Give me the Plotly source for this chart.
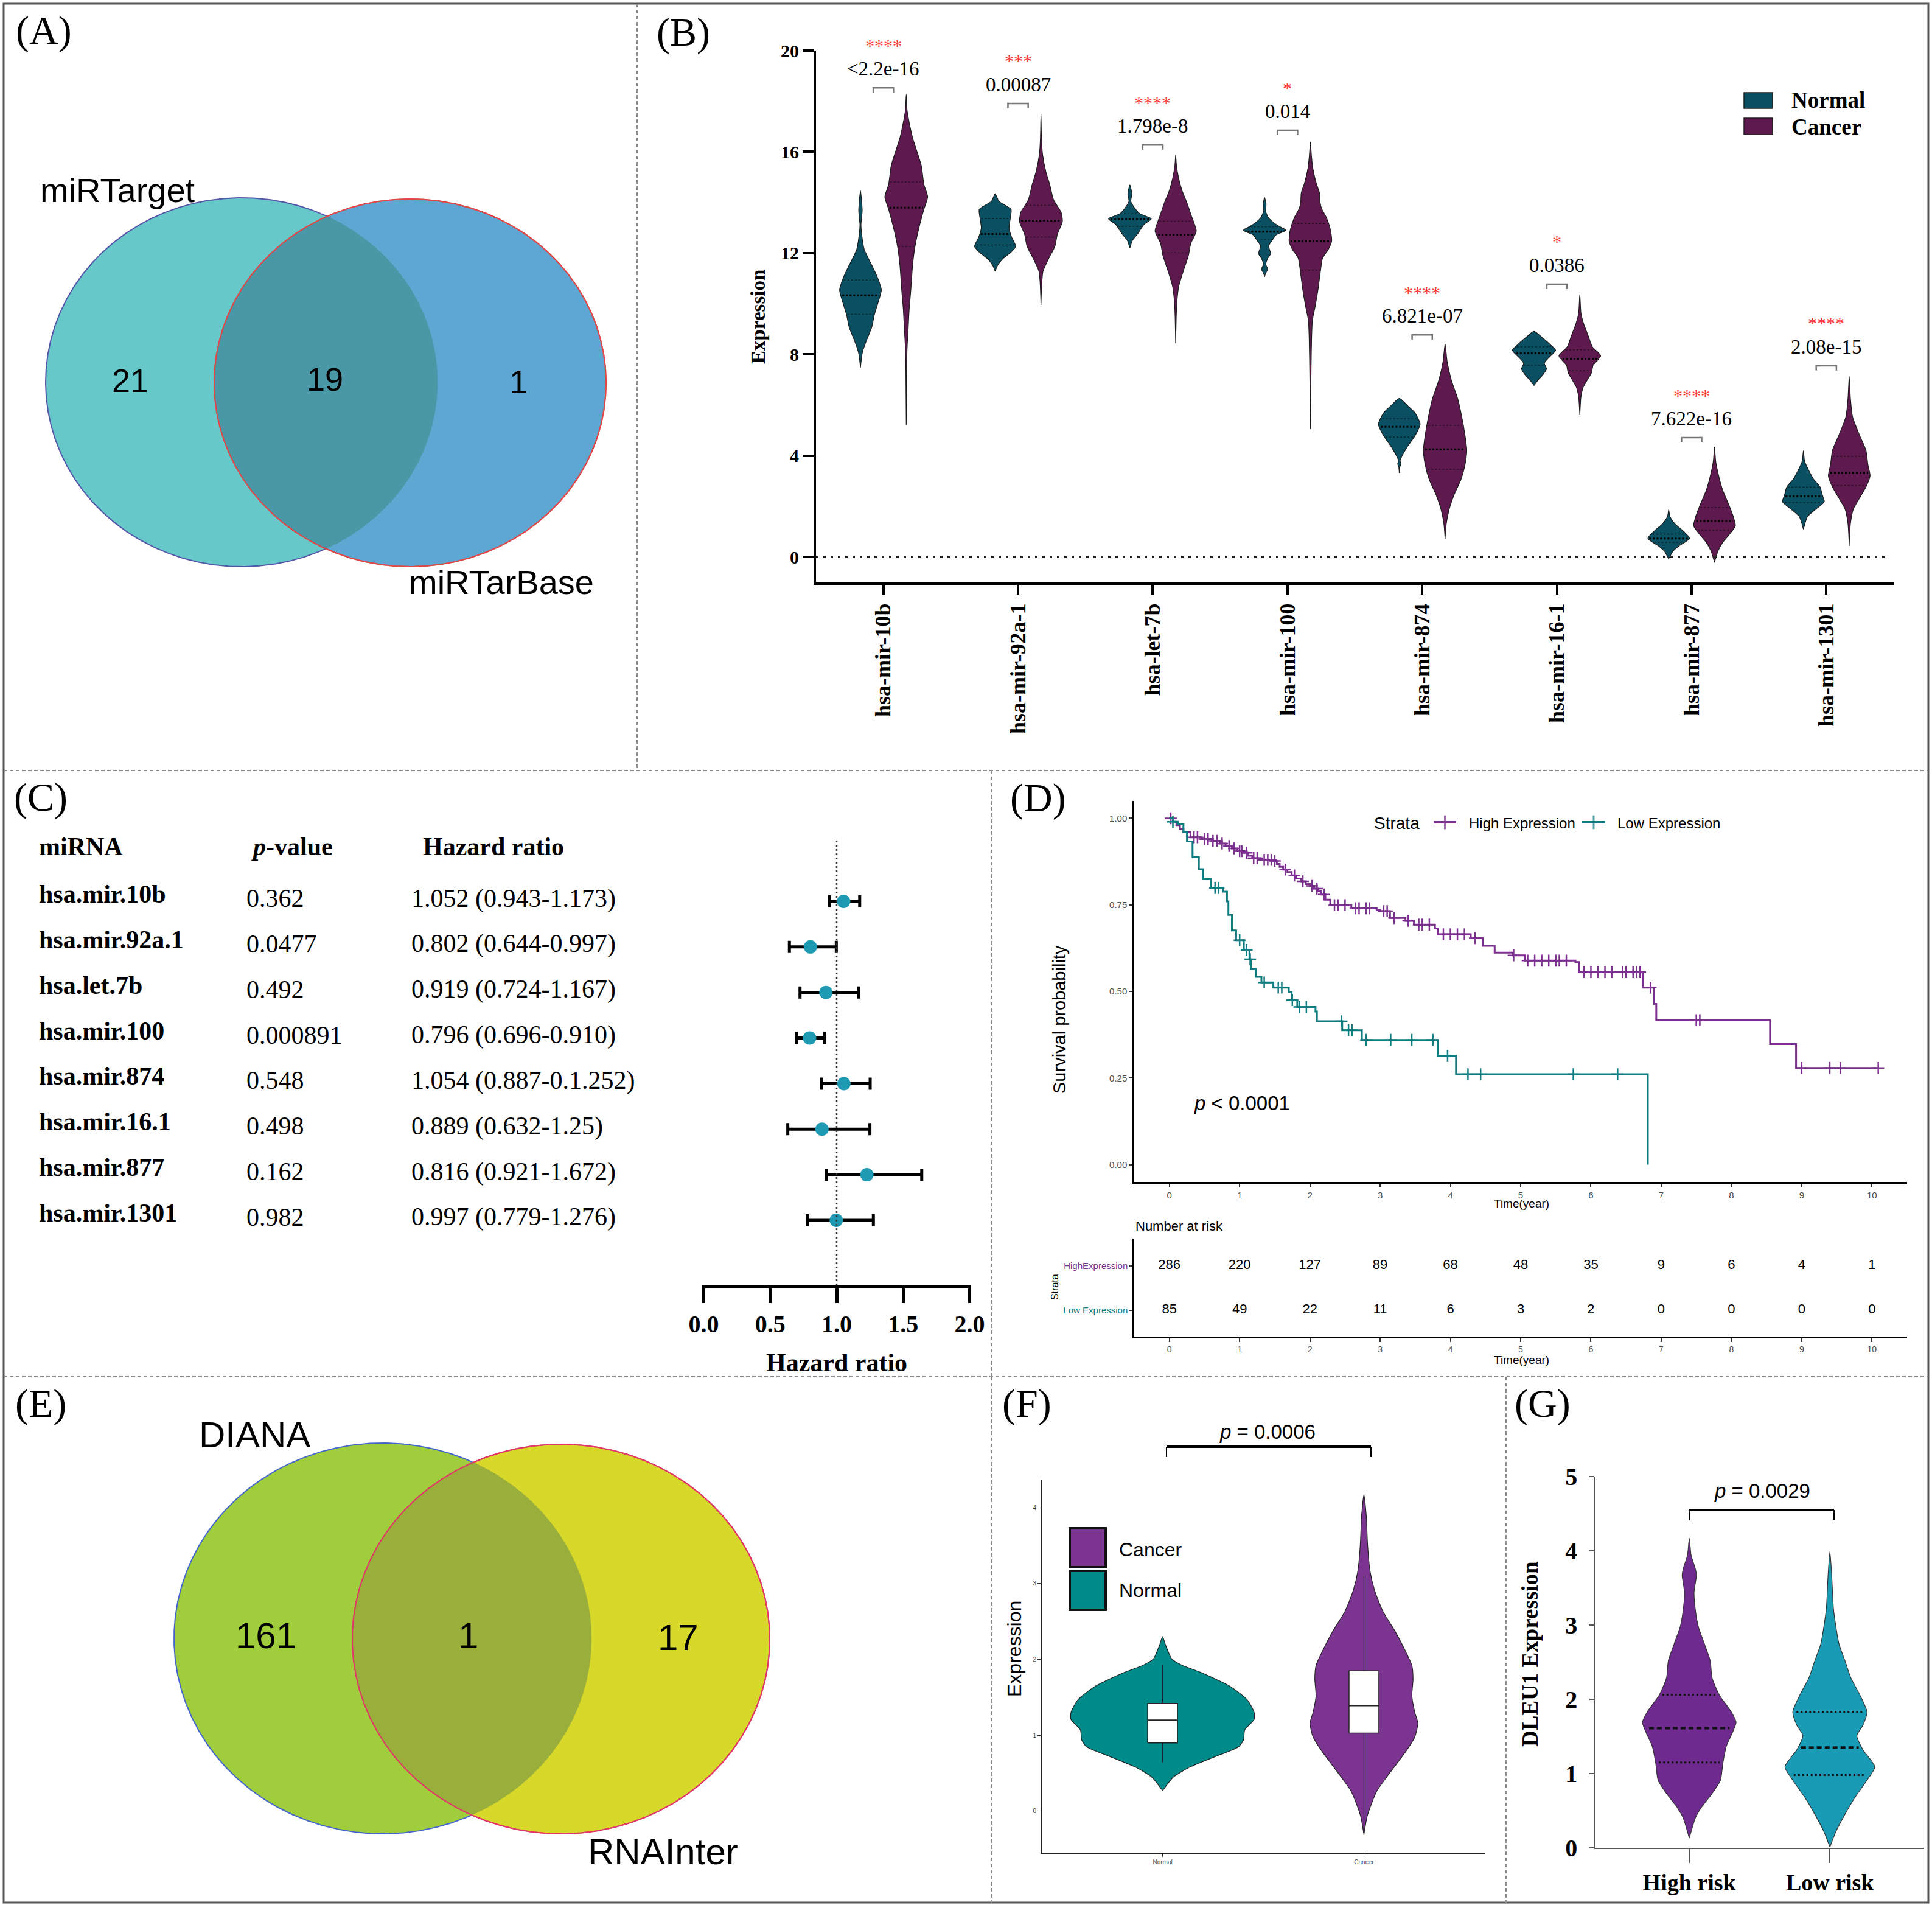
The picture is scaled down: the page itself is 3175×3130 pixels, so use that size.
import numpy as np
import plotly.graph_objects as go

W, H = 3175, 3130
SERIF = "Liberation Serif"
SANS = "Liberation Sans"

# ======================= DATA =======================
# (A) Venn
A_sets = ["miRTarget", "miRTarBase"]
A_counts = [21, 19, 1]            # left only, overlap, right only
# (E) Venn
E_sets = ["DIANA", "RNAInter"]
E_counts = [161, 1, 17]

# (B) violin plot
B_mirna = ["hsa-mir-10b", "hsa-mir-92a-1", "hsa-let-7b", "hsa-mir-100",
           "hsa-mir-874", "hsa-mir-16-1", "hsa-mir-877", "hsa-mir-1301"]
B_pvals = ["&lt;2.2e-16", "0.00087", "1.798e-8", "0.014", "6.821e-07", "0.0386", "7.622e-16", "2.08e-15"]
B_stars = ["****", "***", "****", "*", "****", "*", "****", "****"]
B_bracket = [18.53, 17.91, 16.27, 16.85, 8.77, 10.77, 4.71, 7.55]

B_normal_lv = [
    [14.47, 13.67, 13.12, 12.75, 12.14, 11.52, 11.03, 10.54, 10.05, 9.56, 9.07, 8.58, 8.09, 7.48],
    [14.34, 14.04, 13.73, 13.36, 12.99, 12.63, 12.26, 12.01, 11.77, 11.52, 11.28],
    [14.69, 14.34, 14.04, 13.79, 13.55, 13.36, 13.12, 12.75, 12.50, 12.20],
    [14.19, 13.94, 13.63, 13.39, 13.20, 13.02, 12.90, 12.71, 12.53, 12.28, 11.98, 11.79, 11.55, 11.37, 11.18, 11.06],
    [6.26, 5.97, 5.68, 5.24, 4.80, 4.37, 3.93, 3.80, 3.68, 3.55, 3.32],
    [8.91, 8.66, 8.37, 8.16, 7.86, 7.65, 7.43, 7.21, 6.99, 6.77],
    [1.86, 1.60, 1.31, 1.02, 0.73, 0.44, 0.22, -0.08],
    [4.19, 3.78, 3.35, 3.06, 2.76, 2.47, 2.18, 1.89, 1.60, 1.09],
]
B_normal_hw = [
    [0, .013, .004, .009, .028, .084, .127, .155, .131, .103, .084, .047, .015, 0],
    [0, .028, .118, .112, .103, .122, .153, .112, .056, .019, 0],
    [0, .015, .007, .034, .075, .159, .103, .056, .019, 0],
    [0, .011, .009, .030, .068, .120, .159, .083, .060, .030, .045, .023, .009, .023, .006, 0],
    [0, .062, .118, .155, .118, .062, .015, .006, .012, .004, 0],
    [0, .062, .124, .161, .108, .077, .093, .068, .031, 0],
    [0, .009, .046, .108, .155, .077, .031, 0],
    [0, .009, .046, .077, .124, .139, .155, .093, .031, 0],
]
B_normal_q = [[9.58, 10.33, 10.93], [12.32, 12.75, 13.36], [13.06, 13.34, 13.55], [12.55, 12.84, 13.04],
              [4.73, 5.14, 5.46], [7.57, 8.05, 8.30], [0.58, 0.73, 0.90], [2.14, 2.40, 2.76]]

B_cancer_lv = [
    [18.27, 17.65, 17.16, 16.55, 15.94, 15.45, 14.71, 14.22, 13.73, 12.99, 12.26, 11.52, 10.54, 9.80, 9.07, 8.21, 7.35, 5.21],
    [17.51, 16.55, 15.94, 15.20, 14.71, 14.10, 13.61, 13.24, 12.75, 12.26, 11.77, 11.28, 10.79, 9.95],
    [15.88, 15.45, 14.96, 14.47, 13.98, 13.48, 12.87, 12.38, 11.89, 11.28, 10.66, 10.05, 9.44, 8.43],
    [16.39, 15.84, 15.35, 14.74, 14.37, 14.00, 13.76, 13.39, 12.90, 12.47, 12.16, 11.79, 11.30, 10.57, 9.83, 9.34, 8.61, 7.38, 5.05],
    [8.42, 7.72, 6.99, 6.26, 5.53, 4.80, 4.22, 3.64, 3.06, 2.47, 1.89, 1.31, 0.70],
    [10.37, 9.61, 9.17, 8.74, 8.30, 7.94, 7.57, 7.28, 6.99, 6.70, 6.33, 5.60],
    [4.34, 3.78, 3.20, 2.62, 2.04, 1.60, 1.23, 0.94, 0.58, 0.22, -0.22],
    [7.14, 6.26, 5.53, 4.80, 4.22, 3.64, 3.20, 2.76, 2.33, 1.89, 1.31, 0.43],
]
B_cancer_hw = [
    [0, .006, .022, .047, .084, .112, .131, .159, .131, .094, .065, .047, .034, .022, .015, .006, .003, 0],
    [0, .004, .011, .037, .065, .094, .150, .159, .122, .103, .056, .015, .006, 0],
    [0, .006, .022, .047, .084, .116, .153, .112, .094, .056, .022, .009, .004, 0],
    [0, .008, .018, .045, .068, .072, .083, .120, .150, .158, .135, .090, .075, .057, .033, .015, .009, .005, 0],
    [0, .015, .046, .093, .124, .148, .161, .148, .118, .068, .031, .009, 0],
    [0, .009, .031, .062, .093, .155, .099, .087, .056, .025, .009, 0],
    [0, .009, .031, .062, .108, .139, .155, .118, .062, .025, 0],
    [0, .009, .025, .077, .124, .139, .155, .124, .077, .031, .009, 0],
]
B_cancer_q = [[12.26, 13.79, 14.81], [12.63, 13.28, 13.88], [12.01, 12.72, 13.26], [11.33, 12.47, 13.17],
              [3.46, 4.25, 5.20], [7.35, 7.82, 8.18], [1.06, 1.42, 1.95], [2.82, 3.32, 3.97]]

# (C) forest table
C_mirna = ["hsa.mir.10b", "hsa.mir.92a.1", "hsa.let.7b", "hsa.mir.100",
           "hsa.mir.874", "hsa.mir.16.1", "hsa.mir.877", "hsa.mir.1301"]
C_pval_text = ["0.362", "0.0477", "0.492", "0.000891", "0.548", "0.498", "0.162", "0.982"]
C_hr_text = ["1.052 (0.943-1.173)", "0.802 (0.644-0.997)", "0.919 (0.724-1.167)", "0.796 (0.696-0.910)",
             "1.054 (0.887-0.1.252)", "0.889 (0.632-1.25)", "0.816 (0.921-1.672)", "0.997 (0.779-1.276)"]
C_hr = [1.052, 0.802, 0.919, 0.796, 1.054, 0.889, 1.227, 0.997]
C_ci_low = [0.943, 0.644, 0.724, 0.696, 0.887, 0.632, 0.921, 0.779]
C_ci_high = [1.173, 0.997, 1.167, 0.910, 1.252, 1.25, 1.64, 1.276]
C_ticks = [0.0, 0.5, 1.0, 1.5, 2.0]

# (D) Kaplan-Meier
D_high_t = [0, 0.05, 0.1, 0.15, 0.2, 0.3, 0.45, 0.6, 0.72, 0.8, 0.89, 0.97, 1.06, 1.12, 1.18, 1.3, 1.48,
            1.53, 1.57, 1.62, 1.68, 1.74, 1.8, 1.87, 1.94, 2.0, 2.06, 2.12, 2.16, 2.22, 2.29, 2.59, 2.95,
            3.0, 3.14, 3.36, 3.48, 3.78, 3.82, 4.29, 4.46, 4.63, 4.89, 5.06, 5.78, 5.83, 6.74, 6.9, 6.93,
            8.55, 8.92, 10.09]
D_high_s = [1.0, 0.99, 0.98, 0.97, 0.96, 0.945, 0.94, 0.935, 0.927, 0.92, 0.913, 0.905, 0.90, 0.892,
            0.885, 0.88, 0.877, 0.868, 0.86, 0.852, 0.845, 0.835, 0.826, 0.818, 0.81, 0.805, 0.797, 0.789,
            0.78, 0.765, 0.749, 0.740, 0.735, 0.732, 0.712, 0.704, 0.693, 0.682, 0.665, 0.654, 0.632,
            0.612, 0.604, 0.589, 0.585, 0.556, 0.511, 0.464, 0.417, 0.348, 0.279, 0.279]
D_low_t = [0, 0.05, 0.12, 0.2, 0.25, 0.33, 0.42, 0.48, 0.59, 0.76, 0.82, 0.84, 0.89, 0.95, 1.06, 1.14,
           1.16, 1.23, 1.31, 1.48, 1.70, 1.74, 1.82, 2.08, 2.10, 2.46, 2.74, 3.82, 4.08, 6.81]
D_low_s = [1.0, 0.99, 0.983, 0.961, 0.933, 0.888, 0.853, 0.824, 0.799, 0.788, 0.76, 0.721, 0.676, 0.648,
           0.62, 0.593, 0.565, 0.542, 0.526, 0.511, 0.498, 0.475, 0.455, 0.442, 0.414, 0.388, 0.36,
           0.314, 0.261, 0.0]
D_high_cens = [0.02, 0.35, 0.4, 0.5, 0.55, 0.62, 0.68, 0.75, 0.85, 0.92, 1.0, 1.03, 1.1, 1.2, 1.25, 1.35,
               1.4, 1.45, 1.5, 1.65, 1.78, 1.9, 2.03, 2.1, 2.2, 2.35, 2.4, 2.5, 2.65, 2.7, 2.8, 2.85, 3.05,
               3.1, 3.2, 3.4, 3.55, 3.6, 3.7, 3.9, 4.0, 4.1, 4.2, 4.35, 4.9, 5.1, 5.2, 5.3, 5.4, 5.5, 5.55,
               5.65, 5.9, 6.0, 6.1, 6.2, 6.3, 6.45, 6.5, 6.6, 6.65, 6.7, 6.85, 7.5, 7.55, 9.0, 9.4, 9.55, 10.09]
D_low_cens = [0.05, 0.65, 0.7, 1.0, 1.1, 1.15, 1.35, 1.55, 1.6, 1.75, 1.85, 1.95, 2.45, 2.55, 2.6, 2.8,
              3.15, 3.45, 3.75, 3.96, 4.25, 4.43, 5.75, 6.38]
D_times = [0, 1, 2, 3, 4, 5, 6, 7, 8, 9, 10]
D_risk_high = [286, 220, 127, 89, 68, 48, 35, 9, 6, 4, 1]
D_risk_low = [85, 49, 22, 11, 6, 3, 2, 0, 0, 0, 0]
D_y_ticks = [0, 0.25, 0.5, 0.75, 1.0]

# (F) DLEU1 normal vs cancer
F_groups = ["Normal", "Cancer"]
F_lv = [
    [2.30, 2.19, 2.01, 1.92, 1.83, 1.65, 1.47, 1.30, 1.21, 1.07, 0.94, 0.85, 0.72, 0.58, 0.45, 0.27],
    [4.17, 3.88, 3.52, 3.17, 2.90, 2.63, 2.37, 2.10, 1.92, 1.74, 1.52, 1.30, 1.16, 0.98, 0.81, 0.63,
     0.45, 0.27, 0.09, -0.08, -0.31],
]
F_hw = [
    [0, .015, .045, .10, .19, .333, .420, .455, .455, .408, .402, .378, .262, .134, .054, 0],
    [0, .012, .018, .030, .054, .095, .155, .208, .238, .244, .238, .253, .268, .253, .214, .164,
     .113, .065, .036, .015, 0],
]
F_box = [[0.90, 1.20, 1.42], [1.03, 1.39, 1.85]]     # q1, median, q3
F_whisk = [[0.65, 1.93], [-0.25, 3.10]]

# (G) DLEU1 high vs low risk
G_groups = ["High risk", "Low risk"]
G_lv = [
    [4.17, 3.94, 3.76, 3.67, 3.44, 3.21, 2.98, 2.75, 2.52, 2.29, 2.06, 1.83, 1.69, 1.55, 1.37, 1.14,
     0.91, 0.73, 0.54, 0.40, 0.13],
    [3.99, 3.67, 3.21, 2.75, 2.52, 2.29, 2.06, 1.83, 1.65, 1.51, 1.32, 1.09, 0.91, 0.68, 0.45, 0.22, 0.01],
]
G_hw = [
    [0, .013, .043, .051, .034, .043, .064, .107, .149, .162, .213, .299, .333, .307, .264, .239,
     .222, .162, .085, .043, 0],
    [0, .013, .026, .064, .107, .149, .213, .264, .235, .192, .235, .320, .264, .179, .107, .043, 0],
]
G_q = [[1.15, 1.61, 2.06], [0.98, 1.35, 1.83]]

# ======================= STYLE =======================
COL_N = "#0A5062"
COL_C = "#5E1A4E"
KM_HIGH = "#7B2F8E"
KM_LOW = "#0F7C80"
F_COL = ["#008B8B", "#7B3590"]
G_COL = ["#6E2A8E", "#1A9BB5"]

fig = go.Figure()
ANN, SHP = [], []


def X(p):
    return p / W


def Y(p):
    return 1 - p / H


def text(s, x, y, size, family=SERIF, color="black", weight="normal", xanchor="center",
         yanchor="middle", angle=0, xref="paper", yref="paper", yshift=0):
    ANN.append(dict(text=s, x=X(x) if xref == "paper" else x, y=Y(y) if yref == "paper" else y,
                    xref=xref, yref=yref, xanchor=xanchor, yanchor=yanchor, textangle=angle,
                    showarrow=False, yshift=yshift,
                    font=dict(family=family, size=size, color=color, weight=weight)))


def rect_px(x0, y0, x1, y1, fill, line="black", lw=1):
    SHP.append(dict(type="rect", xref="paper", yref="paper", x0=X(x0), x1=X(x1), y0=Y(y1), y1=Y(y0),
                    fillcolor=fill, line=dict(color=line, width=lw)))


def line_px(x0, y0, x1, y1, color="black", width=2, dash="solid"):
    SHP.append(dict(type="line", xref="paper", yref="paper", x0=X(x0), x1=X(x1), y0=Y(y0), y1=Y(y1),
                    line=dict(color=color, width=width, dash=dash)))


def violin(center, lv, hw, fill, edge, xa, ya, lw=1.5, smooth=0.6):
    lv, hw = list(lv), list(hw)
    xs = [center + h for h in hw] + [center - h for h in hw[::-1]]
    ys = lv + lv[::-1]
    fig.add_trace(go.Scatter(x=xs, y=ys, mode="lines", fill="toself", fillcolor=fill,
                             line=dict(color=edge, width=lw, shape="spline", smoothing=smooth),
                             xaxis=xa, yaxis=ya, hoverinfo="skip", showlegend=False))


def add_seg(store, center, v, lv, hw, frac=0.93):
    h = float(np.interp(v, lv[::-1], hw[::-1])) * frac
    store[0] += [center - h, center + h, None]
    store[1] += [v, v, None]


# ======================= (A) & (E) VENN =======================
def ellipse(cx, cy, rx, ry, t0=0, t1=2 * np.pi, n=721):
    t = np.linspace(t0, t1, n)
    return cx + rx * np.cos(t), cy + ry * np.sin(t)


def venn(L, R, colL, colR, colO, edgeL, edgeR):
    xl, yl = ellipse(*L)
    xr, yr = ellipse(*R)
    for xx, yy, c, e in [(xl, yl, colL, edgeL), (xr, yr, colR, edgeR)]:
        fig.add_trace(go.Scatter(x=xx, y=yy, mode="lines", fill="toself", fillcolor=c,
                                 line=dict(color=e, width=2), xaxis="x7", yaxis="y7",
                                 hoverinfo="skip", showlegend=False))
    ax, ay = ellipse(*L, -np.pi, np.pi, 2001)
    mA = ((ax - R[0]) / R[2]) ** 2 + ((ay - R[1]) / R[3]) ** 2 <= 1
    bx, by = ellipse(*R, 0, 2 * np.pi, 2001)
    mB = ((bx - L[0]) / L[2]) ** 2 + ((by - L[1]) / L[3]) ** 2 <= 1
    lx = np.concatenate([ax[mA], bx[mB]])
    ly = np.concatenate([ay[mA], by[mB]])
    fig.add_trace(go.Scatter(x=lx, y=ly, mode="lines", fill="toself", fillcolor=colO,
                             line=dict(color=colO, width=0.5), xaxis="x7", yaxis="y7",
                             hoverinfo="skip", showlegend=False))
    fig.add_trace(go.Scatter(x=xr, y=yr, mode="lines", line=dict(color=edgeR, width=2),
                             xaxis="x7", yaxis="y7", hoverinfo="skip", showlegend=False))


venn((397, 628, 322, 303), (674, 629, 322, 302), "#66C8C8", "#5EA7D2", "#4A97A5", "#5555AA", "#E04848")
text(A_sets[0], 64, 313, 56, SANS, xanchor="left")
text(A_sets[1], 670, 957, 56, SANS, xanchor="left")
for cnt, (cx, cy) in zip(A_counts, [(214, 625), (534, 623), (852, 627)]):
    text(str(cnt), cx, cy, 54, SANS)

venn((629, 2692, 343, 321), (922, 2693, 343, 320), "#A0CD3C", "#D8D82A", "#9AAE3C", "#4466CC", "#E03868")
text(E_sets[0], 325, 2357, 60, SANS, xanchor="left")
text(E_sets[1], 964, 3042, 60, SANS, xanchor="left")
for cnt, (cx, cy) in zip(E_counts, [(437, 2687), (769, 2687), (1114, 2690)]):
    text(str(cnt), cx, cy, 60, SANS)

# ======================= (B) VIOLINS =======================
OFF = 0.17
medB = [[], []]
qB = [[], []]
for i in range(len(B_mirna)):
    for side, lv, hw, q, col in [(-OFF, B_normal_lv[i], B_normal_hw[i], B_normal_q[i], COL_N),
                                 (OFF, B_cancer_lv[i], B_cancer_hw[i], B_cancer_q[i], COL_C)]:
        c = i + side
        violin(c, lv, hw, col, "#1a1a1a", "x", "y", lw=1.2)
        add_seg(qB, c, q[0], lv, hw)
        add_seg(medB, c, q[1], lv, hw)
        add_seg(qB, c, q[2], lv, hw)
fig.add_trace(go.Scatter(x=qB[0], y=qB[1], mode="lines", line=dict(color="rgba(0,0,0,0.55)", width=1.5, dash="dot"),
                         xaxis="x", yaxis="y", hoverinfo="skip", showlegend=False))
fig.add_trace(go.Scatter(x=medB[0], y=medB[1], mode="lines", line=dict(color="black", width=3, dash="3px,3px"),
                         xaxis="x", yaxis="y", hoverinfo="skip", showlegend=False))
# brackets
bx, by = [], []
for i, b in enumerate(B_bracket):
    bx += [i - 0.075, i - 0.075, i + 0.075, i + 0.075, None]
    by += [b - 0.19, b, b, b - 0.19, None]
    text(B_pvals[i], i, b, 33, SERIF, xref="x", yref="y", yshift=31)
    text(B_stars[i], i, b, 30, SERIF, color="#FF3B3B", xref="x", yref="y", yshift=70)
fig.add_trace(go.Scatter(x=bx, y=by, mode="lines", line=dict(color="#777777", width=2.5),
                         xaxis="x", yaxis="y", hoverinfo="skip", showlegend=False))
SHP.append(dict(type="line", xref="x", yref="y", x0=-0.5, x1=7.463, y0=0, y1=0,
                line=dict(color="#222222", width=4, dash="4px,8px")))
text("Expression", 1246, 521, 33, SERIF, weight="bold", angle=-90)
rect_px(2866, 152, 2913, 178, COL_N, "#222222", 1.5)
rect_px(2866, 194, 2913, 221, COL_C, "#222222", 1.5)
text("Normal", 2942, 165, 37, SERIF, weight="bold", xanchor="left")
text("Cancer", 2942, 208, 37, SERIF, weight="bold", xanchor="left")

# ======================= (C) FOREST =======================
rows = list(range(len(C_mirna)))
fig.add_trace(go.Scatter(
    x=C_hr, y=rows, mode="markers", marker=dict(size=22, color="#1E9BB2"),
    error_x=dict(type="data", symmetric=False,
                 array=[h - c for h, c in zip(C_ci_high, C_hr)],
                 arrayminus=[c - l for c, l in zip(C_hr, C_ci_low)],
                 color="black", thickness=5, width=10),
    xaxis="x2", yaxis="y2", hoverinfo="skip", showlegend=False))
SHP.append(dict(type="line", xref="x2", yref="y2 domain", x0=1, x1=1, y0=0, y1=1,
                line=dict(color="#333333", width=2.5, dash="3px,4px")))
text("miRNA", 62, -1.2, 42, SERIF, weight="bold", xanchor="left", yref="y2")
text("<i>p</i>-value", 411, -1.2, 42, SERIF, weight="bold", xanchor="left", yref="y2")
text("Hazard ratio", 693, -1.2, 42, SERIF, weight="bold", xanchor="left", yref="y2")
for r in rows:
    text(C_mirna[r], 62, r, 42, SERIF, weight="bold", xanchor="left", yref="y2", yshift=12)
    text(C_pval_text[r], 403, r, 42, SERIF, xanchor="left", yref="y2", yshift=5)
    text(C_hr_text[r], 674, r, 42, SERIF, xanchor="left", yref="y2", yshift=5)
text("Hazard ratio", 1375, 2239, 42, SERIF, weight="bold")

# ======================= (D) KAPLAN-MEIER =======================
def step_at(ts, ss, t):
    return ss[int(np.searchsorted(ts, t, side="right")) - 1]


for ts, ss, cens, col in [(D_high_t, D_high_s, D_high_cens, KM_HIGH), (D_low_t, D_low_s, D_low_cens, KM_LOW)]:
    fig.add_trace(go.Scatter(x=ts, y=ss, mode="lines", line=dict(color=col, width=3, shape="hv"),
                             xaxis="x3", yaxis="y3", hoverinfo="skip", showlegend=False))
    fig.add_trace(go.Scatter(x=cens, y=[step_at(ts, ss, t) for t in cens], mode="markers",
                             marker=dict(symbol="cross-thin", size=14, color=col, line=dict(width=2.5, color=col)),
                             xaxis="x3", yaxis="y3", hoverinfo="skip", showlegend=False))
fig.add_trace(go.Scatter(x=D_times, y=[2] * len(D_times), mode="text", text=[str(v) for v in D_risk_high],
                         textfont=dict(family=SANS, size=22, color="black"),
                         xaxis="x4", yaxis="y4", hoverinfo="skip", showlegend=False))
fig.add_trace(go.Scatter(x=D_times, y=[1] * len(D_times), mode="text", text=[str(v) for v in D_risk_low],
                         textfont=dict(family=SANS, size=22, color="black"),
                         xaxis="x4", yaxis="y4", hoverinfo="skip", showlegend=False))
# legend
for x0, x1, col in [(2356, 2393, KM_HIGH), (2600, 2638, KM_LOW)]:
    fig.add_trace(go.Scatter(x=[x0, (x0 + x1) / 2, x1], y=[1351, 1351, 1351], mode="lines+markers",
                             line=dict(color=col, width=4),
                             marker=dict(symbol="cross-thin", size=[0, 16, 0], color=col, line=dict(width=3, color=col)),
                             xaxis="x7", yaxis="y7", hoverinfo="skip", showlegend=False))
text("Strata", 2256, 1352, 28, SANS, xanchor="left")
text("High Expression", 2412, 1352, 24, SANS, xanchor="left")
text("Low Expression", 2656, 1352, 24, SANS, xanchor="left")
text("<i>p</i> &lt; 0.0001", 1960, 1812, 33, SANS, xanchor="left")
text("Survival probability", 1741, 1675, 29, SANS, angle=-90)
text("Time(year)", 2500, 1978, 19, SANS)
text("Number at risk", 1864, 2014, 22, SANS, xanchor="left")
text("Strata", 1733, 2115, 16, SANS, angle=-90)
text("Time(year)", 2500, 2234, 19, SANS)

# ======================= (F) VIOLIN + BOX =======================
for i in range(2):
    violin(i, F_lv[i], F_hw[i], F_COL[i], "#222222", "x5", "y5", lw=1.2)
    fig.add_trace(go.Scatter(x=[i, i], y=F_whisk[i], mode="lines", line=dict(color="#222222", width=1.2),
                             xaxis="x5", yaxis="y5", hoverinfo="skip", showlegend=False))
    q1, md, q3 = F_box[i]
    bw = 0.074
    fig.add_trace(go.Scatter(x=[i - bw, i + bw, i + bw, i - bw, i - bw], y=[q1, q1, q3, q3, q1], mode="lines",
                             fill="toself", fillcolor="white", line=dict(color="#222222", width=1.5),
                             xaxis="x5", yaxis="y5", hoverinfo="skip", showlegend=False))
    fig.add_trace(go.Scatter(x=[i - bw, i + bw], y=[md, md], mode="lines", line=dict(color="#222222", width=2),
                             xaxis="x5", yaxis="y5", hoverinfo="skip", showlegend=False))
line_px(1917, 2377, 2253, 2377, width=4)
line_px(1917, 2377, 1917, 2394, width=2)
line_px(2253, 2377, 2253, 2394, width=2)
text("<i>p</i> = 0.0006", 2083, 2352, 33, SANS)
rect_px(1758, 2511, 1817, 2575, F_COL[1], "#111111", 4)
rect_px(1758, 2581, 1817, 2645, F_COL[0], "#111111", 4)
text("Cancer", 1837, 2546, 32, SANS, xanchor="left")
text("Normal", 1837, 2613, 32, SANS, xanchor="left")
text("Expression", 1667, 2709, 32, SANS, angle=-90)

# ======================= (G) VIOLIN =======================
medG, qG = [[], []], [[], []]
for i in range(2):
    violin(i, G_lv[i], G_hw[i], G_COL[i], "#333333", "x6", "y6", lw=1.2)
    add_seg(qG, i, G_q[i][0], G_lv[i], G_hw[i], 0.9)
    add_seg(medG, i, G_q[i][1], G_lv[i], G_hw[i], 0.9)
    add_seg(qG, i, G_q[i][2], G_lv[i], G_hw[i], 0.9)
fig.add_trace(go.Scatter(x=qG[0], y=qG[1], mode="lines", line=dict(color="#111111", width=3, dash="3px,4px"),
                         xaxis="x6", yaxis="y6", hoverinfo="skip", showlegend=False))
fig.add_trace(go.Scatter(x=medG[0], y=medG[1], mode="lines", line=dict(color="#111111", width=4, dash="8px,5px"),
                         xaxis="x6", yaxis="y6", hoverinfo="skip", showlegend=False))
line_px(2776, 2481, 3014, 2481, width=4)
line_px(2776, 2481, 2776, 2498, width=2)
line_px(3014, 2481, 3014, 2498, width=2)
text("<i>p</i> = 0.0029", 2896, 2449, 33, SANS)
text("DLEU1 Expression", 2514, 2718, 37, SERIF, weight="bold", angle=-90)

# ======================= FRAME & PANEL LABELS =======================
SHP.append(dict(type="rect", xref="paper", yref="paper", x0=X(6), x1=X(3169), y0=Y(3126), y1=Y(6),
                line=dict(color="#555555", width=3)))
for x0, y0, x1, y1 in [(1047, 6, 1047, 1266), (6, 1266, 3169, 1266), (1630, 1266, 1630, 2262),
                       (6, 2262, 3169, 2262), (1630, 2262, 1630, 3126), (2475, 2262, 2475, 3126)]:
    line_px(x0, y0, x1, y1, color="#8a8a8a", width=2, dash="6px,4px")
for lab, x, y in [("(A)", 24, 50), ("(B)", 1077, 53), ("(C)", 21, 1310), ("(D)", 1658, 1311),
                  ("(E)", 23, 2306), ("(F)", 1645, 2306), ("(G)", 2487, 2306)]:
    text(lab, x, y, 66, SERIF, xanchor="left")

# ======================= LAYOUT =======================
noaxis = dict(visible=False, showgrid=False, zeroline=False, fixedrange=True, automargin=False)
base = dict(showgrid=False, zeroline=False, fixedrange=True, automargin=False)
fig.update_layout(
    template="none",
    width=W, height=H, autosize=False, margin=dict(l=0, r=0, t=0, b=0, pad=0),
    paper_bgcolor="white", plot_bgcolor="rgba(0,0,0,0)", showlegend=False,
    annotations=ANN, shapes=SHP,
    xaxis=dict(**base, domain=[X(1341), X(3112)], range=[-0.5, 7.5], anchor="y",
               tickmode="array", tickvals=list(range(8)), ticktext=B_mirna, tickangle=-90,
               showline=True, linewidth=5, linecolor="black", ticks="outside", ticklen=16, tickwidth=4,
               tickcolor="black", tickfont=dict(family=SERIF, size=36, color="black", weight="bold")),
    yaxis=dict(**base, domain=[Y(956), Y(83)], range=[-0.985, 20], anchor="x",
               tickmode="array", tickvals=[0, 4, 8, 12, 16, 20],
               showline=True, linewidth=4, linecolor="black", ticks="outside", ticklen=18, tickwidth=4,
               tickcolor="black", tickfont=dict(family=SERIF, size=30, color="black", weight="bold")),
    xaxis2=dict(**base, domain=[X(1154), X(1596)], range=[-0.012, 2.012], anchor="y2",
                tickmode="array", tickvals=C_ticks, ticktext=["%.1f" % v for v in C_ticks],
                showline=True, linewidth=5, linecolor="black", ticks="outside", ticklen=24, tickwidth=5,
                tickcolor="black", ticklabelstandoff=0,
                tickfont=dict(family=SERIF, size=40, color="black", weight="bold")),
    yaxis2=dict(**noaxis, domain=[Y(2112), Y(1378)], range=[8.43, -1.376], anchor="x2"),
    xaxis3=dict(**base, domain=[X(1864), X(3134)], range=[-0.5, 10.5], anchor="y3",
                tickmode="array", tickvals=D_times, showline=True, linewidth=2.5, linecolor="black",
                ticks="outside", ticklen=6, tickwidth=1.5, tickcolor="#333333",
                tickfont=dict(family=SANS, size=15, color="#4d4d4d")),
    yaxis3=dict(**base, domain=[Y(1942), Y(1316)], range=[-0.05, 1.05], anchor="x3",
                tickmode="array", tickvals=D_y_ticks, ticktext=["%.2f" % v for v in D_y_ticks],
                showline=True, linewidth=2.5, linecolor="black", ticks="outside", ticklen=6, tickwidth=1.5,
                tickcolor="#333333", tickfont=dict(family=SANS, size=15, color="#4d4d4d")),
    xaxis4=dict(**base, domain=[X(1864), X(3134)], range=[-0.5, 10.5], anchor="y4",
                tickmode="array", tickvals=D_times, showline=True, linewidth=2.5, linecolor="black",
                ticks="outside", ticklen=6, tickwidth=1.5, tickcolor="#333333",
                tickfont=dict(family=SANS, size=14, color="#4d4d4d")),
    yaxis4=dict(**base, domain=[Y(2196), Y(2035)], range=[0.41, 2.615], anchor="x4",
                tickmode="array", tickvals=[1, 2],
                ticktext=['<span style="color:%s">Low Expression</span>' % KM_LOW,
                          '<span style="color:%s">HighExpression</span>' % KM_HIGH],
                showline=True, linewidth=2.5, linecolor="black", ticks="outside", ticklen=5, tickwidth=1.5,
                tickcolor="#333333", tickfont=dict(family=SANS, size=15)),
    xaxis5=dict(**base, domain=[X(1712), X(2440)], range=[-0.6, 1.6], anchor="y5",
                tickmode="array", tickvals=[0, 1], ticktext=F_groups,
                showline=True, linewidth=2, linecolor="#222222", ticks="outside", ticklen=5, tickwidth=1,
                tickcolor="#333333", tickfont=dict(family=SANS, size=10, color="#444444")),
    yaxis5=dict(**base, domain=[Y(3044), Y(2431)], range=[-0.546, 4.37], anchor="x5",
                tickmode="array", tickvals=[0, 1, 2, 3, 4],
                showline=True, linewidth=2, linecolor="#222222", ticks="outside", ticklen=5, tickwidth=1,
                tickcolor="#333333", tickfont=dict(family=SANS, size=10, color="#444444")),
    xaxis6=dict(**base, domain=[X(2622), X(3162)], range=[-0.667, 1.67], anchor="y6",
                tickmode="array", tickvals=[0, 1], ticktext=G_groups,
                showline=True, linewidth=1.5, linecolor="#555555", ticks="outside", ticklen=23, tickwidth=1.5,
                tickcolor="#555555", tickfont=dict(family=SERIF, size=38, color="black", weight="bold")),
    yaxis6=dict(**base, domain=[Y(3036), Y(2426)], range=[0, 5], anchor="x6",
                tickmode="array", tickvals=[0, 1, 2, 3, 4, 5],
                showline=True, linewidth=1.5, linecolor="#555555", ticks="outside", ticklen=8, tickwidth=1.5,
                tickcolor="#555555", ticklabelstandoff=12,
                tickfont=dict(family=SERIF, size=40, color="black", weight="bold")),
    xaxis7=dict(**noaxis, domain=[0, 1], range=[0, W], anchor="y7"),
    yaxis7=dict(**noaxis, domain=[0, 1], range=[H, 0], anchor="x7"),
)

fig.write_html("out.html", config={"displayModeBar": False},
               post_script="document.body.style.margin='0px';document.body.style.overflow='hidden';")
